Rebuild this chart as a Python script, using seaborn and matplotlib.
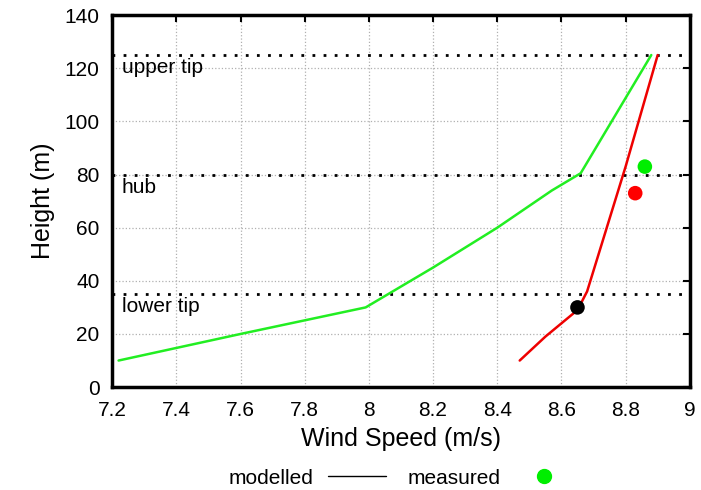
import numpy as np
import pandas as pd
import matplotlib
matplotlib.use('Agg')
import matplotlib.pyplot as plt
from matplotlib.lines import Line2D
import seaborn as sns

sns.set_style('white')
plt.rcParams['font.family'] = ['Liberation Sans', 'DejaVu Sans']
plt.rcParams['text.color'] = 'black'
plt.rcParams['axes.labelcolor'] = 'black'
plt.rcParams['xtick.color'] = 'black'
plt.rcParams['ytick.color'] = 'black'

# modelled wind profiles (wind speed m/s, height m)
green_speed = [7.22, 7.60, 7.99, 8.20, 8.40, 8.57, 8.66, 8.88]
green_height = [10, 20, 30, 45, 60, 74, 80.5, 125]
red_speed = [8.47, 8.55, 8.65, 8.68, 8.80, 8.90]
red_height = [10, 19, 29, 36, 83, 125]

# measured points
meas_speed = [8.65, 8.83, 8.86]
meas_height = [30, 73, 83]
meas_colors = ['black', '#ff0000', '#00ee00']

# reference heights
ref_heights = [125, 80, 35]
ref_labels = ['upper tip', 'hub', 'lower tip']

xticks = [7.2, 7.4, 7.6, 7.8, 8.0, 8.2, 8.4, 8.6, 8.8, 9.0]
xtick_labels = ['7.2', '7.4', '7.6', '7.8', '8', '8.2', '8.4', '8.6', '8.8', '9']
yticks = [0, 20, 40, 60, 80, 100, 120, 140]

green_df = pd.DataFrame({'speed': green_speed, 'height': green_height})
red_df = pd.DataFrame({'speed': red_speed, 'height': red_height})
meas_df = pd.DataFrame({'speed': meas_speed, 'height': meas_height, 'c': meas_colors})

fig = plt.figure(figsize=(7.01, 4.9), dpi=100)
ax = fig.add_axes([0.160, 0.210, 0.824, 0.759])

ax.grid(True, color='#b0b0b0', linestyle=':', linewidth=0.9)

for h, lab in zip(ref_heights, ref_labels):
    ax.axhline(h, color='black', linestyle=(0, (1, 3)), linewidth=2, zorder=2)
    ax.text(7.23, h - 1.2, lab, fontsize=15, va='top', ha='left', zorder=3)

sns.lineplot(data=green_df, x='speed', y='height', sort=False, color='#22ee22',
             linewidth=1.8, ax=ax, zorder=4)
sns.lineplot(data=red_df, x='speed', y='height', sort=False, color='#ee0000',
             linewidth=1.8, ax=ax, zorder=4)
sns.scatterplot(data=meas_df, x='speed', y='height', hue='c', palette=dict(zip(meas_colors, meas_colors)),
                s=110, edgecolor='none', legend=False, ax=ax, zorder=5)

ax.set_xlim(7.2, 9.0)
ax.set_ylim(0, 140)
ax.set_xticks(xticks)
ax.set_xticklabels(xtick_labels)
ax.set_yticks(yticks)
ax.tick_params(direction='in', length=5, width=1.5, labelsize=15, top=True, right=True)
ax.tick_params(axis='x', pad=10)
ax.tick_params(axis='y', pad=9)
for s in ax.spines.values():
    s.set_linewidth(2.5)
    s.set_color('black')
ax.set_xlabel('Wind Speed (m/s)', fontsize=18, labelpad=5)
ax.set_ylabel('Height (m)', fontsize=18, labelpad=7)

handles = [Line2D([0], [0], color='black', linewidth=1),
           Line2D([0], [0], color='#00ee00', marker='o', markersize=10, linestyle='none')]
fig.legend(handles, ['modelled', 'measured'], loc='center', bbox_to_anchor=(0.572, 0.024),
           ncol=2, frameon=False, markerfirst=False, fontsize=15, handlelength=2.8,
           handletextpad=0.7, columnspacing=1.0)

fig.savefig('out.png', dpi=100)
